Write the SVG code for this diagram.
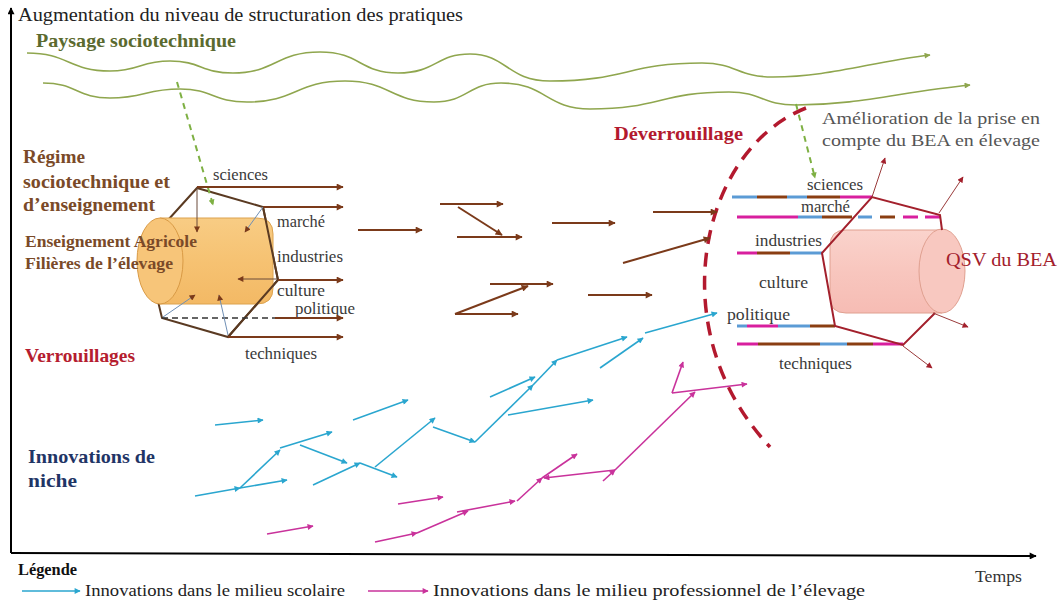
<svg xmlns="http://www.w3.org/2000/svg" width="1059" height="604" viewBox="0 0 1059 604">
<style>
text{font-family:"Liberation Serif","Times New Roman",serif;}
.lbl{font-size:16px;fill:#3a3a3a;}
.brtxt{font-weight:bold;fill:#7a4a28;}
.wave{fill:none;stroke:#8fa64e;stroke-width:1.6;}
.gdash{fill:none;stroke:#7eb043;stroke-width:2;stroke-dasharray:6 5;}
.br{stroke:#7b3a1a;stroke-width:2;fill:none;marker-end:url(#ahb);}
.cy{stroke:#2aa6cf;stroke-width:1.6;fill:none;marker-end:url(#ahc);}
.mg{stroke:#c9329b;stroke-width:1.6;fill:none;marker-end:url(#ahm);}
.hex{stroke:#5a3a22;stroke-width:2;fill:none;}
.thin{stroke:#6a4a3a;stroke-width:1;fill:none;marker-end:url(#ahb2);}
.thinb{stroke:#6f8fb5;stroke-width:1;fill:none;marker-end:url(#ahb2);}
.rhex{stroke:#a3202c;stroke-width:2;fill:none;}
.rthin{stroke:#9a3a3a;stroke-width:1;fill:none;marker-end:url(#ahr);}
.sb{stroke:#5b9bd5;stroke-width:3;}
.sr{stroke:#8a3e12;stroke-width:3;}
.sm{stroke:#d81f9e;stroke-width:3;}
</style>
<defs>
<marker id="ahb" viewBox="0 0 10 10" refX="9" refY="5" markerWidth="9" markerHeight="7" markerUnits="userSpaceOnUse" orient="auto"><path d="M0,0 L10,5 L0,10 z" fill="#7b3a1a"/></marker>
<marker id="ahb2" viewBox="0 0 10 10" refX="9" refY="5" markerWidth="7" markerHeight="6" markerUnits="userSpaceOnUse" orient="auto"><path d="M0,0 L10,5 L0,10 z" fill="#7b3a1a"/></marker>
<marker id="ahc" viewBox="0 0 10 10" refX="9" refY="5" markerWidth="8" markerHeight="6" markerUnits="userSpaceOnUse" orient="auto"><path d="M0,0 L10,5 L0,10 z" fill="#2aa6cf"/></marker>
<marker id="ahm" viewBox="0 0 10 10" refX="9" refY="5" markerWidth="8" markerHeight="6" markerUnits="userSpaceOnUse" orient="auto"><path d="M0,0 L10,5 L0,10 z" fill="#c9329b"/></marker>
<marker id="ahr" viewBox="0 0 10 10" refX="9" refY="5" markerWidth="7" markerHeight="6" markerUnits="userSpaceOnUse" orient="auto"><path d="M0,0 L10,5 L0,10 z" fill="#a3202c"/></marker>
<marker id="ahk" viewBox="0 0 10 10" refX="9" refY="5" markerWidth="8" markerHeight="7" markerUnits="userSpaceOnUse" orient="auto"><path d="M0,0 L10,5 L0,10 z" fill="#000"/></marker>
<marker id="ahg" viewBox="0 0 10 10" refX="9" refY="5" markerWidth="7" markerHeight="6" markerUnits="userSpaceOnUse" orient="auto"><path d="M0,0 L10,5 L0,10 z" fill="#7eb043"/></marker>
<marker id="ahw" viewBox="0 0 10 10" refX="9" refY="5" markerWidth="7" markerHeight="6" markerUnits="userSpaceOnUse" orient="auto"><path d="M0,0 L10,5 L0,10 z" fill="#8fa64e"/></marker>
<linearGradient id="orng" x1="0" y1="0" x2="0" y2="1"><stop offset="0" stop-color="#f8cc84"/><stop offset="0.5" stop-color="#f6c272"/><stop offset="1" stop-color="#f3b965"/></linearGradient>
<linearGradient id="pink" x1="0" y1="0" x2="0" y2="1"><stop offset="0" stop-color="#fad3cc"/><stop offset="0.5" stop-color="#f8c6be"/><stop offset="1" stop-color="#f6bcb4"/></linearGradient>
</defs>
<rect width="1059" height="604" fill="#ffffff"/>

<g id="axes">
<line x1="11" y1="553" x2="11" y2="8" stroke="#000" stroke-width="2" marker-end="url(#ahk)"/>
<line x1="11" y1="553" x2="1036" y2="556" stroke="#000" stroke-width="2" marker-end="url(#ahk)"/>
<text x="18" y="21" font-size="18" fill="#222" textLength="445" lengthAdjust="spacingAndGlyphs">Augmentation du niveau de structuration des pratiques</text>
<text x="975" y="582" font-size="17" fill="#333" textLength="47" lengthAdjust="spacingAndGlyphs">Temps</text>
</g>

<g id="landscape">
<text x="36" y="47" font-size="19" font-weight="bold" fill="#5b6a2f" textLength="200" lengthAdjust="spacingAndGlyphs">Paysage sociotechnique</text>
<path class="wave" marker-end="url(#ahw)" d="M27,53 C68,53 69,71 110,71 C140,71 140,61 170,61 C201,61 201,73 233,73 C276,73 276,52 320,52 C360,52 360,73 398,73 C436,73 436,54 470,54 C507,54 507,81 550,81 C627,81 627,63 702,63 C737,63 737,77 773,77 C830,77 870,62 930,55"/>
<path class="wave" marker-end="url(#ahw)" d="M43,83 C76,83 77,98 110,98 C145,98 145,89 180,89 C213,89 213,102 247,102 C296,102 296,81 345,81 C390,81 390,102 434,102 C468,102 468,83 501,83 C546,83 546,109 590,109 C660,109 660,92 729,92 C762,92 762,105 796,105 C860,105 900,92 970,85"/>
</g>

<g id="regime-left">
<text x="23" y="163" font-size="19" class="brtxt" textLength="62" lengthAdjust="spacingAndGlyphs">Régime</text>
<text x="23" y="188" font-size="19" class="brtxt" textLength="147" lengthAdjust="spacingAndGlyphs">sociotechnique et</text>
<text x="23" y="211" font-size="19" class="brtxt" textLength="132" lengthAdjust="spacingAndGlyphs">d’enseignement</text>
<path d="M168,220 L197,188 L263,207 L278,280 L228,337 L162,318 L157,297" class="hex"/>
<path d="M160,218 L257,218 Q273,218 273,234 L273,288 Q273,304 257,304 L160,304 Z" fill="url(#orng)" stroke="#dca24e" stroke-width="1"/>
<ellipse cx="160" cy="261" rx="23" ry="43" fill="#f7c579" stroke="#d99a45" stroke-width="1"/>
<path d="M263,207 L278,280 L228,337" class="hex"/>
<line x1="162" y1="318" x2="275" y2="318" stroke="#333" stroke-width="1.3" stroke-dasharray="6 4"/>
<line x1="197" y1="188" x2="197" y2="232" class="thin"/>
<line x1="263" y1="207" x2="245" y2="232" class="thinb"/>
<line x1="277" y1="279" x2="238" y2="279" class="thin"/>
<line x1="163" y1="317" x2="195" y2="295" class="thinb"/>
<line x1="228" y1="335" x2="219" y2="295" class="thinb"/>
<text x="25" y="247" font-size="16" class="brtxt" textLength="172" lengthAdjust="spacingAndGlyphs">Enseignement Agricole</text>
<text x="25" y="269" font-size="16" class="brtxt" textLength="148" lengthAdjust="spacingAndGlyphs">Filières de l’élevage</text>
<text x="213" y="180" class="lbl" textLength="55" lengthAdjust="spacingAndGlyphs">sciences</text>
<text x="277" y="227" class="lbl" textLength="48" lengthAdjust="spacingAndGlyphs">marché</text>
<text x="277" y="262" class="lbl" textLength="66" lengthAdjust="spacingAndGlyphs">industries</text>
<text x="277" y="296" class="lbl" textLength="48" lengthAdjust="spacingAndGlyphs">culture</text>
<text x="295" y="314" class="lbl" textLength="60" lengthAdjust="spacingAndGlyphs">politique</text>
<text x="245" y="359" class="lbl" textLength="72" lengthAdjust="spacingAndGlyphs">techniques</text>
<text x="25" y="362" font-size="19" font-weight="bold" fill="#b51d2f" textLength="110" lengthAdjust="spacingAndGlyphs">Verrouillages</text>
</g>

<g id="niche-label">
<text x="28" y="463" font-size="19" font-weight="bold" fill="#1f3566" textLength="127" lengthAdjust="spacingAndGlyphs">Innovations de</text>
<text x="28" y="487" font-size="19" font-weight="bold" fill="#1f3566" textLength="49" lengthAdjust="spacingAndGlyphs">niche</text>
</g>

<g id="unlock">
<path d="M806,108 C700,150 660,330 770,447" fill="none" stroke="#b3192e" stroke-width="3.5" stroke-dasharray="14 9"/>
<text x="614" y="140" font-size="19" font-weight="bold" fill="#b3192e" textLength="129" lengthAdjust="spacingAndGlyphs">Déverrouillage</text>
<text x="822" y="124" font-size="17" fill="#555" textLength="218" lengthAdjust="spacingAndGlyphs">Amélioration de la prise en</text>
<text x="822" y="146" font-size="17" fill="#555" textLength="218" lengthAdjust="spacingAndGlyphs">compte du BEA en élevage</text>
</g>

<g id="qsv">
<path d="M846,230 L942,230 L942,313 L846,313 Q830,313 830,297 L830,246 Q830,230 846,230 Z" fill="url(#pink)" stroke="#e0a090" stroke-width="1"/>
<ellipse cx="942" cy="271" rx="23" ry="42" fill="#f8c8c0" stroke="#e0a090" stroke-width="1"/>
<text x="946" y="266" font-size="19" fill="#a3202c" textLength="111" lengthAdjust="spacingAndGlyphs">QSV du BEA</text>
<g id="strands">
<line x1="732" y1="197" x2="757" y2="197" class="sb"/><line x1="757" y1="197" x2="787" y2="197" class="sr"/><line x1="787" y1="197" x2="807" y2="197" class="sb"/><line x1="807" y1="197" x2="840" y2="197" class="sr"/><line x1="840" y1="197" x2="872" y2="197" class="sm"/>
<line x1="737" y1="217" x2="798" y2="217" class="sm"/><line x1="798" y1="217" x2="822" y2="217" class="sb"/><line x1="822" y1="217" x2="852" y2="217" class="sr"/><line x1="858" y1="217" x2="872" y2="217" class="sb"/><line x1="880" y1="217" x2="895" y2="217" class="sr"/><line x1="903" y1="217" x2="918" y2="217" class="sm"/><line x1="925" y1="217" x2="940" y2="217" class="sm"/>
<line x1="737" y1="253" x2="757" y2="253" class="sm"/><line x1="757" y1="253" x2="790" y2="253" class="sr"/><line x1="790" y1="253" x2="822" y2="253" class="sb"/>
<line x1="737" y1="326" x2="747" y2="326" class="sb"/><line x1="747" y1="326" x2="778" y2="326" class="sm"/><line x1="778" y1="326" x2="810" y2="326" class="sb"/><line x1="810" y1="326" x2="835" y2="326" class="sr"/>
<line x1="737" y1="344" x2="758" y2="344" class="sm"/><line x1="758" y1="344" x2="820" y2="344" class="sr"/><line x1="820" y1="344" x2="847" y2="344" class="sb"/><line x1="847" y1="344" x2="873" y2="344" class="sr"/><line x1="873" y1="344" x2="903" y2="344" class="sm"/>
</g>
<path d="M942,230 L940,215 L872,197 L822,253 L835,326 L903,345 L935,313" class="rhex"/>
<line x1="872" y1="197" x2="885" y2="158" class="rthin"/>
<line x1="939" y1="213" x2="963" y2="177" class="rthin"/>
<line x1="933" y1="313" x2="968" y2="327" class="rthin"/>
<line x1="903" y1="346" x2="932" y2="368" class="rthin"/>
<text x="807" y="190" class="lbl" textLength="56" lengthAdjust="spacingAndGlyphs">sciences</text>
<text x="801" y="212" class="lbl" textLength="49" lengthAdjust="spacingAndGlyphs">marché</text>
<text x="755" y="246" class="lbl" textLength="67" lengthAdjust="spacingAndGlyphs">industries</text>
<text x="759" y="288" class="lbl" textLength="49" lengthAdjust="spacingAndGlyphs">culture</text>
<text x="727" y="320" class="lbl" textLength="63" lengthAdjust="spacingAndGlyphs">politique</text>
<text x="779" y="369" class="lbl" textLength="73" lengthAdjust="spacingAndGlyphs">techniques</text>
</g>

<g id="connectors">
<path class="gdash" marker-end="url(#ahg)" d="M177,82 L213,205"/>
<path class="gdash" marker-end="url(#ahg)" d="M796,104 L815,178"/>
<line x1="197" y1="187" x2="343" y2="187" class="br"/>
<line x1="263" y1="207" x2="343" y2="207" class="br"/>
<line x1="278" y1="280" x2="343" y2="280" class="br"/>
<line x1="275" y1="318" x2="343" y2="318" class="br"/>
<line x1="228" y1="337" x2="343" y2="337" class="br"/>
<line x1="358" y1="230" x2="422" y2="230" class="br"/>
<line x1="440" y1="204" x2="503" y2="204" class="br"/>
<line x1="458" y1="207" x2="502" y2="235" class="br"/>
<line x1="457" y1="237" x2="522" y2="237" class="br"/>
<line x1="552" y1="223" x2="615" y2="223" class="br"/>
<line x1="653" y1="212" x2="717" y2="212" class="br"/>
<line x1="623" y1="263" x2="710" y2="238" class="br"/>
<line x1="490" y1="284" x2="553" y2="284" class="br"/>
<line x1="455" y1="314" x2="528" y2="286" class="br"/>
<line x1="455" y1="314" x2="518" y2="314" class="br"/>
<line x1="588" y1="295" x2="652" y2="295" class="br"/>
<g id="school">
<line x1="215" y1="425" x2="263" y2="420" class="cy"/>
<line x1="195" y1="496" x2="240" y2="488" class="cy"/>
<line x1="240" y1="488" x2="287" y2="480" class="cy"/>
<line x1="240" y1="488" x2="280" y2="450" class="cy"/>
<line x1="280" y1="448" x2="332" y2="432" class="cy"/>
<line x1="300" y1="445" x2="347" y2="463" class="cy"/>
<line x1="353" y1="420" x2="408" y2="400" class="cy"/>
<line x1="313" y1="485" x2="360" y2="463" class="cy"/>
<line x1="360" y1="463" x2="397" y2="477" class="cy"/>
<line x1="375" y1="467" x2="435" y2="418" class="cy"/>
<line x1="433" y1="427" x2="475" y2="442" class="cy"/>
<line x1="475" y1="442" x2="533" y2="385" class="cy"/>
<line x1="533" y1="385" x2="557" y2="360" class="cy"/>
<line x1="557" y1="360" x2="627" y2="337" class="cy"/>
<line x1="490" y1="397" x2="535" y2="377" class="cy"/>
<line x1="508" y1="415" x2="593" y2="400" class="cy"/>
<line x1="600" y1="368" x2="643" y2="338" class="cy"/>
<line x1="645" y1="333" x2="717" y2="313" class="cy"/>
</g>
<g id="professional">
<line x1="267" y1="534" x2="313" y2="526" class="mg"/>
<line x1="398" y1="504" x2="443" y2="497" class="mg"/>
<line x1="375" y1="542" x2="417" y2="533" class="mg"/>
<line x1="417" y1="533" x2="468" y2="511" class="mg"/>
<line x1="457" y1="512" x2="515" y2="501" class="mg"/>
<line x1="517" y1="501" x2="542" y2="478" class="mg"/>
<line x1="542" y1="478" x2="577" y2="454" class="mg"/>
<line x1="615" y1="470" x2="544" y2="478" class="mg"/>
<line x1="603" y1="481" x2="615" y2="470" class="mg"/>
<line x1="615" y1="470" x2="695" y2="392" class="mg"/>
<line x1="672" y1="393" x2="683" y2="362" class="mg"/>
<line x1="672" y1="393" x2="747" y2="384" class="mg"/>
</g>
</g>

<g id="legend">
<text x="18" y="575" font-size="16" font-weight="bold" fill="#111" textLength="59" lengthAdjust="spacingAndGlyphs">Légende</text>
<line x1="22" y1="591" x2="80" y2="591" class="cy"/>
<text x="85" y="596" font-size="17" fill="#222" textLength="260" lengthAdjust="spacingAndGlyphs">Innovations dans le milieu scolaire</text>
<line x1="368" y1="591" x2="428" y2="591" class="mg"/>
<text x="433" y="596" font-size="17" fill="#222" textLength="432" lengthAdjust="spacingAndGlyphs">Innovations dans le milieu professionnel de l’élevage</text>
</g>
</svg>
